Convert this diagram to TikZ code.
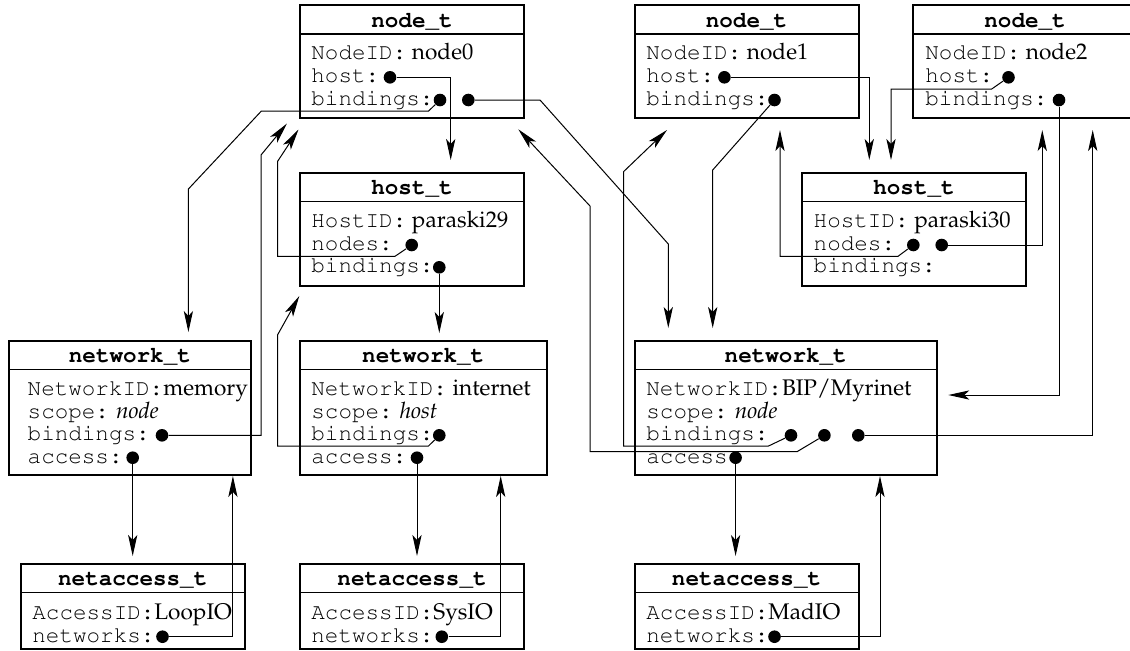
\documentclass[tikz,border=0pt]{standalone}
\usepackage[T1]{fontenc}
\renewcommand{\rmdefault}{ppl}
\renewcommand{\ttdefault}{pcr}
\usetikzlibrary{arrows.meta}
\newcommand{\px}{0.5pt}
\newcommand{\boxline}{1pt}
\newcommand{\linkline}{0.5pt}
\newcommand{\boxfont}{\fontsize{11.3}{13}\selectfont}

\tikzset{
  head/.style={anchor=north west, inner sep=0pt,
    minimum height=28*\px, text height=8.5pt, text depth=1pt,
    font=\boxfont\ttfamily\bfseries},
  body/.style={anchor=north west, inner sep=0pt},
  frame/.style={line width=\boxline},
  divider/.style={line width=0.7pt},
  row/.style={anchor=base west, inner sep=0pt, font=\boxfont},
  dot/.style={circle, fill, inner sep=0pt, minimum size=6.3pt},
  link/.style={line width=\linkline, -{Stealth[length=10.5pt, width=4.6pt, inset=2.5pt]}},
}

\begin{document}
\begin{tikzpicture}[x=0.5pt, y=-0.5pt]
\useasboundingbox (0,0) rectangle (1130,650);
%node0
\node[head, minimum width=223.3*\px] (n0h) at (300,5.3) {node\_t};
\node[body, minimum width=223.3*\px, minimum height=83.4*\px] (n0b) at (n0h.south west) {};
\draw[frame] (n0h.north west) rectangle (n0b.south east);
\draw[divider] (n0h.south west) -- (n0h.south east);
\node[row] (n0id) at (311,59.5) {\texttt{NodeID:} node0};
\node[row] (n0host) at (311,82.5) {\texttt{host:}};
\node[row] (n0bind) at (311,105.5) {\texttt{bindings:}};
%node1
\node[head, minimum width=223.3*\px] (n1h) at (634.5,5.3) {node\_t};
\node[body, minimum width=223.3*\px, minimum height=83.4*\px] (n1b) at (n1h.south west) {};
\draw[frame] (n1h.north west) rectangle (n1b.south east);
\draw[divider] (n1h.south west) -- (n1h.south east);
\node[row] (n1id) at (646,59.5) {\texttt{NodeID:} node1};
\node[row] (n1host) at (646,82.5) {\texttt{host:}};
\node[row] (n1bind) at (646,105.5) {\texttt{bindings:}};
%node2
\node[head, minimum width=223.3*\px] (n2h) at (913,5.3) {node\_t};
\node[body, minimum width=223.3*\px, minimum height=83.4*\px] (n2b) at (n2h.south west) {};
\draw[frame] (n2h.north west) rectangle (n2b.south east);
\draw[divider] (n2h.south west) -- (n2h.south east);
\node[row] (n2id) at (925,59.5) {\texttt{NodeID:} node2};
\node[row] (n2host) at (925,82.5) {\texttt{host:}};
\node[row] (n2bind) at (925,105.5) {\texttt{bindings:}};
%paraski29
\node[head, minimum width=223.3*\px] (h29h) at (300,172.7) {host\_t};
\node[body, minimum width=223.3*\px, minimum height=83.3*\px] (h29b) at (h29h.south west) {};
\draw[frame] (h29h.north west) rectangle (h29b.south east);
\draw[divider] (h29h.south west) -- (h29h.south east);
\node[row] (h29id) at (311,227.7) {\texttt{HostID:} paraski29};
\node[row] (h29nodes) at (311,250.3) {\texttt{nodes:}};
\node[row] (h29bind) at (311,272.8) {\texttt{bindings:}};
%paraski30
\node[head, minimum width=222.7*\px] (h30h) at (802.3,172.7) {host\_t};
\node[body, minimum width=222.7*\px, minimum height=83.3*\px] (h30b) at (h30h.south west) {};
\draw[frame] (h30h.north west) rectangle (h30b.south east);
\draw[divider] (h30h.south west) -- (h30h.south east);
\node[row] (h30id) at (813.3,227.7) {\texttt{HostID:} paraski30};
\node[row] (h30nodes) at (813.3,250.3) {\texttt{nodes:}};
\node[row] (h30bind) at (813.3,272.8) {\texttt{bindings:}};
%memory
\node[head, minimum width=240.4*\px] (nmh) at (9.3,340.5) {network\_t};
\node[body, minimum width=240.4*\px, minimum height=105*\px] (nmb) at (nmh.south west) {};
\draw[frame] (nmh.north west) rectangle (nmb.south east);
\draw[divider] (nmh.south west) -- (nmh.south east);
\node[row] (nmid) at (27.3,395.5) {\texttt{NetworkID:}memory};
\node[row] (nmscope) at (27.3,418) {\texttt{scope:} \textit{node}};
\node[row] (nmbind) at (27.3,440.5) {\texttt{bindings:}};
\node[row] (nmacc) at (27.3,463) {\texttt{access:}};
%internet
\node[head, minimum width=245.7*\px] (nih) at (300,340.5) {network\_t};
\node[body, minimum width=245.7*\px, minimum height=105*\px] (nib) at (nih.south west) {};
\draw[frame] (nih.north west) rectangle (nib.south east);
\draw[divider] (nih.south west) -- (nih.south east);
\node[row] (niid) at (311,395.5) {\texttt{NetworkID:} internet};
\node[row] (niscope) at (311,418) {\texttt{scope:} \textit{host}};
\node[row] (nibind) at (311,440.5) {\texttt{bindings:}};
\node[row] (niacc) at (311,463) {\texttt{access:}};
%BIP/Myrinet
\node[head, minimum width=301.7*\px] (nbh) at (634.5,340.5) {network\_t};
\node[body, minimum width=301.7*\px, minimum height=105*\px] (nbb) at (nbh.south west) {};
\draw[frame] (nbh.north west) rectangle (nbb.south east);
\draw[divider] (nbh.south west) -- (nbh.south east);
\node[row] (nbid) at (646,395.5) {\texttt{NetworkID:}BIP/Myrinet};
\node[row] (nbscope) at (646,418) {\texttt{scope:} \textit{node}};
\node[row] (nbbind) at (646,440.5) {\texttt{bindings:}};
\node[row] (nbacc) at (646,463) {\texttt{access:}};
%LoopIO
\node[head, minimum width=223.3*\px] (alh) at (20.7,563.7) {netaccess\_t};
\node[body, minimum width=223.3*\px, minimum height=55.6*\px] (alb) at (alh.south west) {};
\draw[frame] (alh.north west) rectangle (alb.south east);
\draw[divider] (alh.south west) -- (alh.south east);
\node[row] (alid) at (32,619) {\texttt{AccessID:}LoopIO};
\node[row] (alnet) at (32,642) {\texttt{networks:}};
%SysIO
\node[head, minimum width=223.3*\px] (ash) at (300,563.7) {netaccess\_t};
\node[body, minimum width=223.3*\px, minimum height=55.6*\px] (asb) at (ash.south west) {};
\draw[frame] (ash.north west) rectangle (asb.south east);
\draw[divider] (ash.south west) -- (ash.south east);
\node[row] (asid) at (311,619) {\texttt{AccessID:}SysIO};
\node[row] (asnet) at (311,642) {\texttt{networks:}};
%MadIO
\node[head, minimum width=223.3*\px] (amh) at (634.5,563.7) {netaccess\_t};
\node[body, minimum width=223.3*\px, minimum height=55.6*\px] (amb) at (amh.south west) {};
\draw[frame] (amh.north west) rectangle (amb.south east);
\draw[divider] (amh.south west) -- (amh.south east);
\node[row] (amid) at (646,619) {\texttt{AccessID:}MadIO};
\node[row] (amnet) at (646,642) {\texttt{networks:}};
%dots
\node[dot] (d0h) at (390,77.3) {};
\node[dot] (d0b1) at (440,100) {};
\node[dot] (d0b2) at (468.3,100) {};
\node[dot] (d1h) at (724.4,77.3) {};
\node[dot] (d1b) at (774.5,100) {};
\node[dot] (d2h) at (1008.5,77.3) {};
\node[dot] (d2b) at (1059,100) {};
\node[dot] (dh29n) at (411.7,245) {};
\node[dot] (dh29b) at (439.3,267.3) {};
\node[dot] (dh30n1) at (913.3,245) {};
\node[dot] (dh30n2) at (941.7,245) {};
\node[dot] (dmb) at (162,435.3) {};
\node[dot] (dma) at (132.7,457.7) {};
\node[dot] (dib) at (439.3,435.3) {};
\node[dot] (dia) at (417,457.7) {};
\node[dot] (dbb1) at (791,435.3) {};
\node[dot] (dbb2) at (824.4,435.3) {};
\node[dot] (dbb3) at (858.3,435.3) {};
\node[dot] (dba) at (735.6,457.7) {};
\node[dot] (dal) at (162.5,636.7) {};
\node[dot] (das) at (441.8,636.7) {};
\node[dot] (dam) at (774.5,636.7) {};
%arrow ends
\coordinate (tA) at (450.7,160);
\coordinate (tB) at (188.4,332);
\coordinate (tC) at (668.3,328);
\coordinate (tD) at (869.3,160);
\coordinate (tE) at (712.7,328);
\coordinate (tF) at (891,160);
\coordinate (tG) at (948.3,395);
\coordinate (tH) at (780,130);
\coordinate (tI) at (1042.3,130);
\coordinate (tJ) at (1092.7,130);
\coordinate (tK) at (667,130);
\coordinate (tL) at (518.3,129.3);
\coordinate (tM) at (287,123.5);
\coordinate (tN) at (298.5,129.5);
\coordinate (tO) at (439.3,333);
\coordinate (tP) at (299.3,296);
\coordinate (tQ) at (132.7,556);
\coordinate (tR) at (232.9,476);
\coordinate (tS) at (417,556);
\coordinate (tT) at (500.7,476);
\coordinate (tU) at (735.6,556);
\coordinate (tV) at (880,476);
%links
\draw[link] (d0h) -| (tA);
\draw[link] (d0b1) -- (428.6,111) -- (261.4,111) -- (188.4,189) -- (tB);
\draw[link] (d0b2) -- (540,100) -- (668.3,244) -- (tC);
\draw[link] (d1h) -| (tD);
\draw[link] (d1b) -- (712.7,170) -- (tE);
\draw[link] (d2h) -- (991.7,89) -| (tF);
\draw[link] (d2b) |- (tG);
\draw[link] (dh30n1) -- (898,256.3) -| (tH);
\draw[link] (dh30n2) -| (tI);
\draw[link] (dbb3) -| (tJ);
\draw[link] (dbb1) -- (768.5,446) -- (623.5,446) -- (623.5,171.7) -- (tK);
\draw[link] (dbb2) -- (797,451.7) -- (590,451.7) -- (590,206) -- (tL);
\draw[link] (dmb) -- (261,435.3) -- (261,155) -- (tM);
\draw[link] (dh29n) -- (395,256.3) -- (277.5,256.3) -- (277.5,161.5) -- (tN);
\draw[link] (dh29b) -- (tO);
\draw[link] (dib) -- (428.5,446) -- (277.5,446) -- (277.5,335) -- (tP);
\draw[link] (dma) -- (tQ);
\draw[link] (dal) -| (tR);
\draw[link] (dia) -- (tS);
\draw[link] (das) -| (tT);
\draw[link] (dba) -- (tU);
\draw[link] (dam) -| (tV);
\end{tikzpicture}
\end{document}
